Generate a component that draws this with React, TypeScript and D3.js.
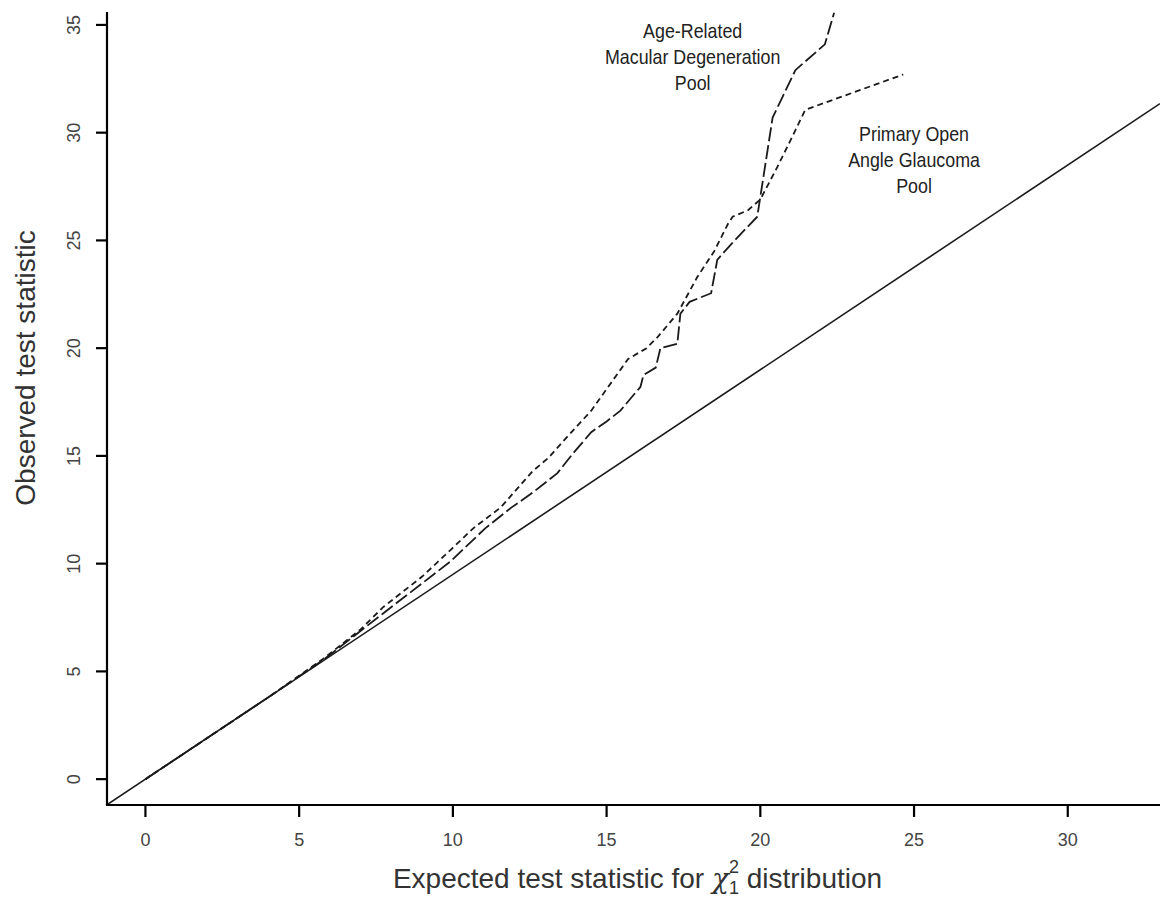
import React from "react";
import * as d3 from "d3";

const oagX = [0, 2, 4, 5.8, 7, 7.74, 9, 9.92, 10.67, 11.55, 12.6, 13.1, 13.6, 14.5, 15.2, 15.7, 16.3, 16.65, 17.3, 17.95, 18.5, 18.96, 19.1, 19.6, 20.0, 20.55, 21.0, 21.46, 24.65];
const oagY = [0, 1.9, 3.8, 5.6, 6.95, 7.99, 9.4, 10.63, 11.65, 12.6, 14.3, 14.9, 15.7, 17.1, 18.5, 19.5, 20.0, 20.5, 21.6, 23.3, 24.5, 25.8, 26.1, 26.4, 26.9, 28.4, 29.7, 31.06, 32.7];

const amdX = [0, 2, 4, 5.8, 7.74, 9.92, 11.06, 11.9, 12.6, 13.4, 13.9, 14.5, 15.0, 15.45, 15.8, 16.1, 16.2, 16.6, 16.75, 17.3, 17.4, 17.7, 18.4, 18.6, 19.1, 19.9, 20.4, 21.14, 22.1, 22.4];
const amdY = [0, 1.9, 3.8, 5.55, 7.7, 10.1, 11.65, 12.6, 13.3, 14.2, 15.1, 16.1, 16.6, 17.1, 17.7, 18.2, 18.75, 19.1, 20.0, 20.2, 21.6, 22.15, 22.55, 24.1, 24.9, 26.1, 30.7, 32.9, 34.1, 35.56];

const refSlope = 0.95;
const xTicks = [0, 5, 10, 15, 20, 25, 30];
const yTicks = [0, 5, 10, 15, 20, 25, 30, 35];

const amdLabel = ["Age-Related", "Macular Degeneration", "Pool"];
const oagLabel = ["Primary Open", "Angle Glaucoma", "Pool"];

const W = 1167, H = 901;

export default function App() {
  const x = d3.scaleLinear().domain([-1.25, 33.0]).range([107, 1160]);
  const y = d3.scaleLinear().domain([-1.2, 35.6]).range([805, 12]);

  const line = d3
    .line<[number, number]>()
    .x((d) => x(d[0]))
    .y((d) => y(d[1]));

  const oag = oagX.map((v, i) => [v, oagY[i]] as [number, number]);
  const amd = amdX.map((v, i) => [v, amdY[i]] as [number, number]);
  const [x0, x1] = x.domain();
  const ref: [number, number][] = [
    [x0, x0 * refSlope],
    [x1, x1 * refSlope],
  ];

  const [px0, px1] = x.range();
  const [py0, py1] = y.range();
  const tickFont = "'Liberation Sans', Arial, sans-serif";

  // narrow-looking annotation text, squeezed around its own centre
  const note = (lines: string[], cx: number, top: number, key: string) =>
    lines.map((s, i) => {
      const tx = x(cx);
      const ty = y(top) + i * 26;
      return (
        <text
          key={key + i}
          transform={`translate(${tx},${ty}) scale(0.85,1)`}
          textAnchor="middle"
        >
          {s}
        </text>
      );
    });

  return (
    <svg
      width={W}
      height={H}
      style={{ position: "absolute", left: 0, top: 0, background: "#fff" }}
    >
      <defs>
        <clipPath id="plot">
          <rect x={px0} y={0} width={px1 - px0} height={py0} />
        </clipPath>
      </defs>

      <g clipPath="url(#plot)" fill="none" stroke="#1a1a1a">
        <path d={line(ref) || ""} strokeWidth={1.6} />
        <path d={line(oag) || ""} strokeWidth={1.8} strokeDasharray="6,4" />
        <path d={line(amd) || ""} strokeWidth={1.8} strokeDasharray="14,4" />
      </g>

      {/* axes */}
      <g stroke="#000" strokeWidth={2.2}>
        <line x1={px0} x2={px0} y1={py1} y2={py0 + 1} />
        <line x1={px0 - 1} x2={px1} y1={py0} y2={py0} />
        {xTicks.map((t) => (
          <line key={"xt" + t} x1={x(t)} x2={x(t)} y1={py0} y2={py0 + 12} />
        ))}
        {yTicks.map((t) => (
          <line key={"yt" + t} x1={px0} x2={px0 - 11} y1={y(t)} y2={y(t)} />
        ))}
      </g>

      <g fontFamily={tickFont} fontSize={18} fill="#444" textAnchor="middle">
        {xTicks.map((t) => (
          <text key={"xl" + t} x={x(t)} y={py0 + 41}>
            {t}
          </text>
        ))}
        {yTicks.map((t) => (
          <text
            key={"yl" + t}
            transform={`translate(${px0 - 27},${y(t)}) rotate(-90)`}
          >
            {t}
          </text>
        ))}
      </g>

      <text
        transform={`translate(35,368) rotate(-90)`}
        textAnchor="middle"
        fontFamily={tickFont}
        fontSize={28}
        fill="#333"
      >
        Observed test statistic
      </text>

      <text
        x={(px0 + px1) / 2 + 4}
        y={888}
        textAnchor="middle"
        fontFamily={tickFont}
        fontSize={28}
        fill="#333"
      >
        Expected test statistic for{" "}
        <tspan fontFamily="'DejaVu Serif', serif" fontStyle="italic">χ</tspan>
        <tspan fontSize={18} dy={6}>1</tspan>
        <tspan fontSize={18} dx={-10} dy={-21}>2</tspan>
        <tspan dy={15}> distribution</tspan>
      </text>

      <g fontFamily={tickFont} fontSize={21} fill="#222">
        {note(amdLabel, 17.8, 34.4, "a")}
        {note(oagLabel, 25.0, 29.6, "o")}
      </g>
    </svg>
  );
}
